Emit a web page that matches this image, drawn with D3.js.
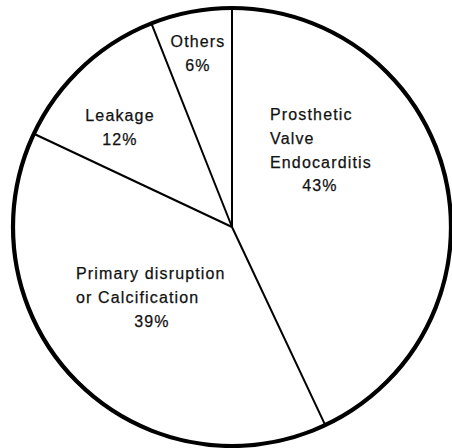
<!DOCTYPE html>
<html>
<head>
<meta charset="utf-8">
<script src="https://cdn.jsdelivr.net/npm/d3@7"></script>
<style>
  html, body { margin: 0; padding: 0; background: #fff; }
  svg { display: block; }
  text { font-family: "Liberation Sans", Arial, Helvetica, sans-serif; font-size: 16px; letter-spacing: 1.15px; fill: #111; stroke: #111; stroke-width: 0.25px; }
</style>
</head>
<body>
<svg id="chart" width="452" height="448"></svg>
<script>
// Causes of bioprosthetic valve failure
const categories = ["Prosthetic Valve Endocarditis", "Primary disruption or Calcification", "Leakage", "Others"];
const values = [43, 39, 12, 6];
const labelLines = [
  ["Prosthetic", "Valve", "Endocarditis"],
  ["Primary disruption", "or Calcification"],
  ["Leakage"],
  ["Others"]
];

// label block placement relative to the pie centre: anchor x, first baseline y, alignment
const labelLayout = [
  { x: 38,   y: -107, align: "start",  pctX: 88 },
  { x: -156, y: 52,   align: "start",  pctX: -80 },
  { x: -112, y: -106, align: "middle", pctX: -112 },
  { x: -34,  y: -180, align: "middle", pctX: -34 }
];

const width = 452, height = 448;
const cx = 232, cy = 227, radius = 219;
const lineGap = 23.8;

const svg = d3.select("#chart");
const g = svg.append("g").attr("transform", `translate(${cx},${cy})`);

const pie = d3.pie().sort(null).value(d => d.value).startAngle(0).endAngle(2 * Math.PI);
const data = categories.map((c, i) => ({ name: c, value: values[i], lines: labelLines[i], layout: labelLayout[i] }));
const arcs = pie(data);

const arc = d3.arc().innerRadius(0).outerRadius(radius);

// slices (white fill, thin dividers)
g.selectAll("path.slice")
  .data(arcs)
  .join("path")
  .attr("class", "slice")
  .attr("d", arc)
  .attr("fill", "#fff")
  .attr("stroke", "none");

// radial divider lines at each slice boundary
g.selectAll("line.spoke")
  .data(arcs)
  .join("line")
  .attr("class", "spoke")
  .attr("x1", 0).attr("y1", 0)
  .attr("x2", d => radius * Math.sin(d.startAngle))
  .attr("y2", d => -radius * Math.cos(d.startAngle))
  .attr("stroke", "#000")
  .attr("stroke-width", 2);

// heavy outer rim
g.append("circle")
  .attr("r", radius)
  .attr("fill", "none")
  .attr("stroke", "#000")
  .attr("stroke-width", 4.2);

// labels
const labels = g.selectAll("g.label")
  .data(arcs)
  .join("g")
  .attr("class", "label");

labels.each(function(d) {
  const sel = d3.select(this);
  const L = d.data.layout;
  d.data.lines.forEach((ln, i) => {
    sel.append("text")
      .attr("x", L.x)
      .attr("y", L.y + i * lineGap)
      .attr("text-anchor", L.align)
      .text(ln);
  });
  sel.append("text")
    .attr("x", L.pctX)
    .attr("y", L.y + d.data.lines.length * lineGap)
    .attr("text-anchor", "middle")
    .text(d.data.value + "%");
});
</script>
</body>
</html>
